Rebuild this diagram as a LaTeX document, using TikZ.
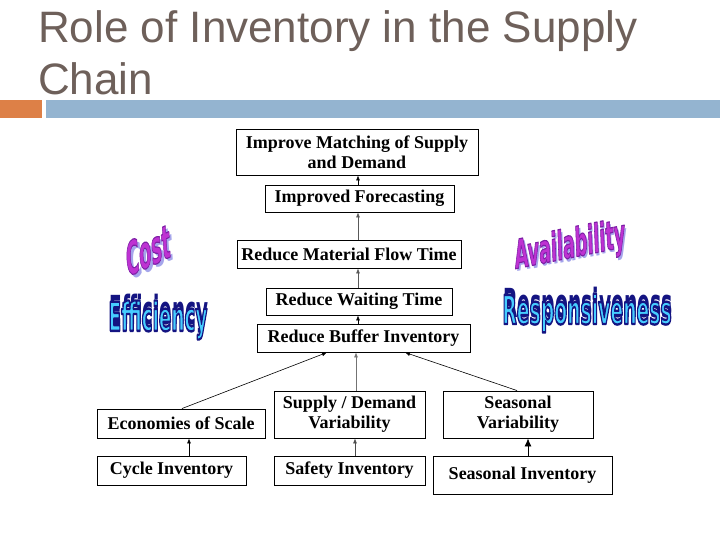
\documentclass[tikz,border=0pt]{standalone}
\usepackage{fontspec}
\setmainfont{Liberation Serif}
\newfontfamily\titlefont{Liberation Sans}
\newfontfamily\wafont{DejaVu Sans}
\usetikzlibrary{arrows.meta,calc}
\definecolor{titlegray}{RGB}{110,96,90}
\definecolor{barorange}{RGB}{221,128,71}
\definecolor{barblue}{RGB}{148,180,208}
\definecolor{waPurple}{RGB}{190,50,210}
\definecolor{waLav}{RGB}{165,165,235}
\definecolor{waCyan}{RGB}{70,205,255}
\definecolor{waNavy}{RGB}{20,20,130}
% text drawn filled and stroked (outline colour as "r g b", stroke width)
\newcommand\outlinedtext[3]{%
  \special{pdf:literal direct q #1 RG #2 w 1 j 2 Tr}#3\special{pdf:literal direct Q}}
\newcommand\wordart[9]{%
  % #1 name, #2 x,y, #3 node options, #4 text, #5 fill, #6 outline rgb, #7 shadow colour, #8 shadow shift, #9 stroke width
  \node[#3, text=#7] (#1-sh) at ($(#2)+(#8)$) {#4};
  \node[#3, text=#5] (#1) at (#2) {\outlinedtext{#6}{#9}{#4}};
}
\tikzset{
  bx/.style={draw, line width=0.9pt, fill=white, align=center, inner sep=0pt,
    font=\bfseries\fontsize{18}{20}\selectfont},
  arr/.style={-{Latex[length=5pt,width=4pt]}, line width=0.6pt},
  bigarr/.style={-{Latex[length=8pt,width=7pt]}, line width=0.8pt},
  wa/.style={inner sep=0pt, font=\wafont\bfseries\fontsize{#1}{#1}\selectfont},
  ttl/.style={anchor=base west, inner sep=0pt, text=titlegray,
    font=\titlefont\fontsize{44}{52}\selectfont}
}
\begin{document}
\begin{tikzpicture}[x=1pt,y=-1pt]
\useasboundingbox (0,0) rectangle (720,540);
\fill[white] (0,0) rectangle (720,540);

% title and bar
\node[ttl] (t1) at (38,43) {Role of Inventory in the Supply};
\node[ttl] (t2) at (38,95) {Chain};
\fill[barorange] (0,100) rectangle (42,118);
\fill[barblue] (46,100) rectangle (720,118);

% upper stack
\node[bx, minimum width=242pt, minimum height=46pt] (b1) at (357,152) {Improve Matching of Supply\\and Demand};
\node[bx, minimum width=189pt, minimum height=27pt] (b2) at (359.5,198.5) {Improved Forecasting};
\node[bx, minimum width=224pt, minimum height=28pt] (b3) at (349,254) {Reduce Material Flow Time};
\node[bx, minimum width=186pt, minimum height=27pt] (b4) at (359,301.5) {Reduce Waiting Time};
\node[bx, minimum width=213pt, minimum height=28pt] (b5) at (363.5,338) {Reduce Buffer Inventory};

% lower rows
\node[bx, minimum width=168pt, minimum height=29pt] (econ) at (181,423.5) {Economies of Scale};
\node[bx, minimum width=151pt, minimum height=47pt] (sd) at (349.5,414.5) {Supply / Demand\\Variability};
\node[bx, minimum width=150pt, minimum height=47pt] (sv) at (518,414.5) {Seasonal\\Variability};
\node[bx, minimum width=149pt, minimum height=29pt] (cyc) at (171.5,470.5) {Cycle Inventory};
\node[bx, minimum width=151pt, minimum height=29pt] (saf) at (349.5,470.5) {Safety Inventory};
\node[bx, minimum width=179pt, minimum height=38pt, line width=0.6pt] (sinv) at (522.5,475) {Seasonal Inventory};

% connectors
\coordinate (col) at (358,0);
\draw[arr] (b2.north -| col) -- (b1.south -| col);
\draw[arr, black!65] (b3.north -| col) -- (b2.south -| col);
\draw[arr, black!65] (b4.north -| col) -- (b3.south -| col);
\draw[arr] (b5.north -| col) -- (b4.south -| col);

\coordinate (ea) at (182,0);
\coordinate (eb) at (327,0);
\coordinate (sdc) at (356,0);
\coordinate (va) at (517,0);
\coordinate (vb) at (405,0);
\coordinate (cc) at (189,0);
\coordinate (sc) at (355,0);
\coordinate (ic) at (528,0);
\draw[arr] (econ.north -| ea) -- (b5.south -| eb);
\draw[arr, black!55] (sd.north -| sdc) -- (b5.south -| sdc);
\draw[arr] (sv.north -| va) -- (b5.south -| vb);
\draw[arr] (cyc.north -| cc) -- (econ.south -| cc);
\draw[arr, black!70] (saf.north -| sc) -- (sd.south -| sc);
\draw[bigarr] (sinv.north -| ic) -- (sv.south -| ic);

% word art
\wordart{cost}{148,250}{wa=47, xscale=0.38, rotate=10}{Cost}{waPurple}{0.49 0.12 0.65}{waLav}{3,3}{1.2}
\wordart{avail}{570,247}{wa=40, xscale=0.44, rotate=5}{Availability}{waPurple}{0.49 0.12 0.65}{waLav}{2,3}{1.2}
\wordart{eff}{158,320}{wa=40, xscale=0.46}{Efficiency}{waCyan}{0.08 0.08 0.51}{waNavy}{1,-6}{2.4}
\wordart{resp}{587,313}{wa=40, xscale=0.47}{Responsiveness}{waCyan}{0.08 0.08 0.51}{waNavy}{1,-7}{2.4}
\end{tikzpicture}
\end{document}
